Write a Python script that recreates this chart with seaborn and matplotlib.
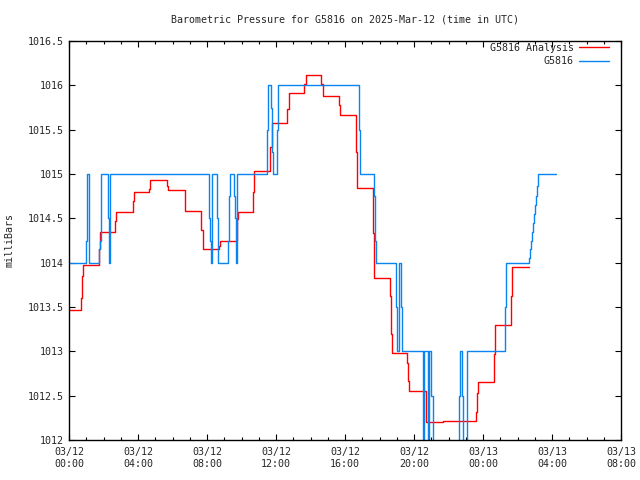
import matplotlib
matplotlib.use("Agg")
import matplotlib.pyplot as plt
import seaborn as sns
import pandas as pd
from matplotlib.ticker import MultipleLocator, FixedLocator

# ---- data (hours since 2025-03-12 00:00 UTC, pressure in mb) ----
analysis_t = [0.00, 0.68, 0.74, 0.80, 1.72, 1.80, 2.69, 2.75, 3.69, 3.75,
              4.66, 4.72, 5.66, 5.75, 6.70, 6.74, 7.67, 7.74, 8.67, 8.74,
              9.72, 9.78, 10.68, 10.74, 11.67, 11.74, 12.66, 12.74, 13.64, 13.75,
              14.63, 14.70, 15.67, 15.72, 16.66, 16.72, 17.64, 17.70, 18.60, 18.66,
              18.72, 19.61, 19.66, 19.70, 20.67, 20.70, 21.66, 23.61, 23.67, 23.72,
              24.62, 24.68, 25.64, 25.70, 26.65]
analysis_p = [1013.47, 1013.60, 1013.85, 1013.97, 1014.15, 1014.35, 1014.47, 1014.57, 1014.69, 1014.80,
              1014.83, 1014.93, 1014.86, 1014.82, 1014.70, 1014.58, 1014.37, 1014.15, 1014.19, 1014.24,
              1014.49, 1014.57, 1014.80, 1015.03, 1015.30, 1015.58, 1015.73, 1015.91, 1016.01, 1016.12,
              1016.01, 1015.88, 1015.78, 1015.67, 1015.25, 1014.84, 1014.34, 1013.83, 1013.62, 1013.20,
              1012.98, 1012.87, 1012.66, 1012.55, 1012.37, 1012.20, 1012.21, 1012.32, 1012.53, 1012.65,
              1012.97, 1013.30, 1013.62, 1013.95, 1013.95]

obs_t = [0.00, 1.00, 1.03, 1.07, 1.14, 1.18, 1.76, 1.80, 1.84, 1.88,
         2.28, 2.33, 2.38, 8.10, 8.18, 8.24, 8.30, 8.60, 8.64, 9.22,
         9.28, 9.33, 9.58, 9.62, 9.66, 9.72, 11.50, 11.55, 11.72, 11.78,
         11.84, 12.07, 12.13, 16.83, 16.88, 17.70, 17.75, 17.81, 18.97, 19.03,
         19.15, 19.25, 19.32, 20.52, 20.60, 20.81, 20.87, 21.00, 21.10, 22.63,
         22.66, 22.80, 22.85, 23.05, 23.10, 25.29, 25.35, 26.68, 26.74, 26.80,
         26.86, 26.91, 26.97, 27.03, 27.09, 27.15, 27.21, 28.23]
obs_p = [1014.00, 1014.25, 1014.75, 1015.00, 1014.50, 1014.00, 1014.15, 1014.25, 1014.75, 1015.00,
         1014.50, 1014.00, 1015.00, 1014.50, 1014.25, 1014.00, 1015.00, 1014.50, 1014.00, 1014.25,
         1014.75, 1015.00, 1014.75, 1014.50, 1014.00, 1015.00, 1015.50, 1016.00, 1015.75, 1015.25,
         1015.00, 1015.50, 1016.00, 1015.50, 1015.00, 1014.75, 1014.25, 1014.00, 1013.50, 1013.00,
         1014.00, 1013.50, 1013.00, 1011.50, 1013.00, 1011.50, 1013.00, 1012.50, 1011.50, 1012.50,
         1013.00, 1012.50, 1011.50, 1012.50, 1013.00, 1013.50, 1014.00, 1014.05, 1014.15, 1014.25,
         1014.35, 1014.45, 1014.55, 1014.65, 1014.75, 1014.87, 1015.00, 1015.00]

x_tick_hours = [0, 4, 8, 12, 16, 20, 24, 28, 32]
x_tick_labels = ["03/12\n00:00", "03/12\n04:00", "03/12\n08:00", "03/12\n12:00",
                 "03/12\n16:00", "03/12\n20:00", "03/13\n00:00", "03/13\n04:00",
                 "03/13\n08:00"]
y_ticks = [1012, 1012.5, 1013, 1013.5, 1014, 1014.5, 1015, 1015.5, 1016, 1016.5]
y_tick_labels = ["1012", "1012.5", "1013", "1013.5", "1014", "1014.5",
                 "1015", "1015.5", "1016", "1016.5"]

title = "Barometric Pressure for G5816 on 2025-Mar-12 (time in UTC)"
ylabel = "milliBars"
name_analysis = "G5816 Analysis"
name_obs = "G5816"

# ---- plot ----
sns.set_style("white")
plt.rcParams['font.family'] = ['DejaVu Sans Mono']
FS = 7.2

fig = plt.figure(figsize=(6.4, 4.8), dpi=100)
ax = fig.add_axes([69/640, 1-440/480, 552/640, 399/480])

df_a = pd.DataFrame({"t": analysis_t, "p": analysis_p})
df_o = pd.DataFrame({"t": obs_t, "p": obs_p})

sns.lineplot(data=df_a, x="t", y="p", ax=ax, color="#ff0000", lw=1.0,
             drawstyle="steps-post", estimator=None, sort=False, label=name_analysis)
sns.lineplot(data=df_o, x="t", y="p", ax=ax, color="#0a84f0", lw=1.0,
             drawstyle="steps-post", estimator=None, sort=False, label=name_obs)

ax.set_xlim(0, 32)
ax.set_ylim(1012, 1016.5)
ax.xaxis.set_major_locator(FixedLocator(x_tick_hours))
ax.set_xticklabels(x_tick_labels, fontsize=FS)
ax.xaxis.set_minor_locator(MultipleLocator(1))
ax.yaxis.set_major_locator(FixedLocator(y_ticks))
ax.set_yticklabels(y_tick_labels, fontsize=FS)

ax.tick_params(which="both", direction="in", top=True, right=True,
               bottom=True, left=True, color="black", width=0.8)
ax.tick_params(which="major", length=4.5, pad=4)
ax.tick_params(which="minor", length=2.2)
ax.tick_params(axis="x", which="major", pad=5)
for s in ax.spines.values():
    s.set_color("black")
    s.set_linewidth(1.0)

ax.set_xlabel("")
ax.set_ylabel(ylabel, fontsize=FS)
ax.yaxis.set_label_coords(-54/552, 0.5)
fig.text(345/640, 1-19/480, title, ha="center", va="center", fontsize=FS)

leg = ax.legend(loc="upper right", bbox_to_anchor=(0.978, 0.995), frameon=False,
                fontsize=FS, markerfirst=False, handlelength=3.0, handletextpad=0.5,
                labelspacing=0.35, borderaxespad=0, borderpad=0)
for line in leg.get_lines():
    line.set_linewidth(1.0)

fig.savefig("out.png", dpi=100)
